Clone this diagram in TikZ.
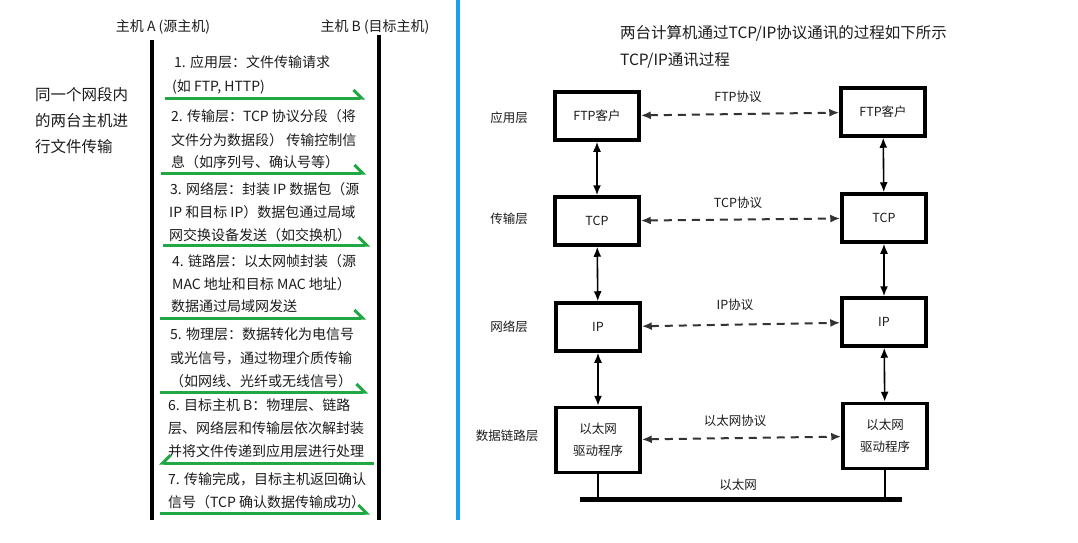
\documentclass[tikz,border=0pt]{standalone}
\usepackage{fontspec}
\setmainfont{Noto Sans CJK SC}
\usetikzlibrary{arrows.meta}
\definecolor{gline}{HTML}{1FA843}
\definecolor{bline}{HTML}{1E9DE8}
\definecolor{txt}{HTML}{1C1C1C}
\definecolor{dash}{HTML}{333333}
\begin{document}
\begin{tikzpicture}[x=1pt,y=-1pt,
  stxt/.style={anchor=west,inner sep=0pt,text=txt,font=\fontsize{14}{16}\selectfont,text height=11pt,text depth=3pt},
  head/.style={inner sep=0pt,text=txt,font=\fontsize{14}{16}\selectfont},
  desc/.style={anchor=west,inner sep=0pt,text=txt,font=\fontsize{15.5}{18}\selectfont},
  garrow/.style={draw=gline,line width=3pt,-{Straight Barb[left,length=8pt,width=16pt,line width=3pt]}},
  garrowl/.style={draw=gline,line width=3pt,{Straight Barb[right,length=8pt,width=16pt,line width=3pt]}-},
  life/.style={draw=black,line width=3.5pt},
  box/.style={draw=black,line width=3.5pt,minimum width=84pt,minimum height=48pt,inner sep=0pt,text=txt,font=\fontsize{12.5}{22}\selectfont,align=center},
  lbl/.style={inner sep=0pt,text=txt,font=\fontsize{12.5}{15}\selectfont},
  plbl/.style={inner sep=0pt,text=txt,font=\fontsize{12.5}{15}\selectfont},
  title/.style={anchor=west,inner sep=0pt,text=txt,font=\fontsize{15.5}{18}\selectfont},
  varrow/.style={draw=black,line width=1.6pt,{Latex[length=10pt,width=8pt]}-{Latex[length=10pt,width=8pt]}},
  harrow/.style={draw=dash,line width=2pt,dash pattern=on 8pt off 6pt,{Latex[length=10pt,width=8pt]}-{Latex[length=10pt,width=8pt]}}
]
\useasboundingbox (0,0) rectangle (1078,543);
\fill[white] (0,0) rectangle (1078,543);

% ---------- left panel ----------
\node[head] (hostA) at (163,27) {主机 A (源主机)};
\node[head] (hostB) at (375,27) {主机 B (目标主机)};
\coordinate (aTop) at (152,40);
\coordinate (aBot) at (152,520);
\coordinate (bTop) at (379,35);
\coordinate (bBot) at (379,520);
\draw[life] (aTop) -- (aBot);
\draw[life] (bTop) -- (bBot);

\node[desc] (d1) at (35,95) {同一个网段内};
\node[desc] (d2) at (35,121) {的两台主机进};
\node[desc] (d3) at (35,147) {行文件传输};

\node[stxt] (s1a) at (174,63) {1. 应用层：文件传输请求};
\node[stxt] (s1b) at (172,88) {(如 FTP, HTTP)};
\node[stxt] (s2a) at (171,117) {2. 传输层：TCP 协议分段（将};
\node[stxt] (s2b) at (171,141) {文件分为数据段） 传输控制信};
\node[stxt] (s2c) at (171,163) {息（如序列号、确认号等）};
\node[stxt] (s3a) at (170,190) {3. 网络层：封装 IP 数据包（源};
\node[stxt] (s3b) at (169,213) {IP 和目标 IP）数据包通过局域};
\node[stxt] (s3c) at (169,236) {网交换设备发送（如交换机）};
\node[stxt] (s4a) at (172,262) {4. 链路层：以太网帧封装（源};
\node[stxt] (s4b) at (172,285) {MAC 地址和目标 MAC 地址）};
\node[stxt] (s4c) at (171,307) {数据通过局域网发送};
\node[stxt] (s5a) at (170,335) {5. 物理层：数据转化为电信号};
\node[stxt] (s5b) at (170,359) {或光信号，通过物理介质传输};
\node[stxt] (s5c) at (170,382) {（如网线、光纤或无线信号）};
\node[stxt] (s6a) at (168,406) {6. 目标主机 B：物理层、链路};
\node[stxt] (s6b) at (168,429) {层、网络层和传输层依次解封装};
\node[stxt] (s6c) at (168,452) {并将文件传递到应用层进行处理};
\node[stxt] (s7a) at (168,480) {7. 传输完成，目标主机返回确认};
\node[stxt] (s7b) at (168,503) {信号（TCP 确认数据传输成功）};

\coordinate (g1s) at (165,98);  \coordinate (g1e) at (365,98);
\coordinate (g2s) at (161,173); \coordinate (g2e) at (366,173);
\coordinate (g3s) at (163,245); \coordinate (g3e) at (370,245);
\coordinate (g4s) at (160,318); \coordinate (g4e) at (366,318);
\coordinate (g5s) at (160,392); \coordinate (g5e) at (368,392);
\coordinate (g6s) at (159,463); \coordinate (g6e) at (374,463);
\coordinate (g7s) at (160,513); \coordinate (g7e) at (370,513);
\draw[garrow] (g1s) -- (g1e);
\draw[garrow] (g2s) -- (g2e);
\draw[garrow] (g3s) -- (g3e);
\draw[garrow] (g4s) -- (g4e);
\draw[garrow] (g5s) -- (g5e);
\draw[garrowl] (g6s) -- (g6e);
\draw[garrow] (g7s) -- (g7e);

% divider
\coordinate (divT) at (458,0);
\coordinate (divB) at (458,520);
\draw[draw=bline,line width=3.5pt] (divT) -- (divB);

% ---------- right panel ----------
\node[title] (t1) at (620,33) {两台计算机通过TCP/IP协议通讯的过程如下所示};
\node[title] (t2) at (620,60) {TCP/IP通讯过程};

\node[lbl] (l1) at (509,118) {应用层};
\node[lbl] (l2) at (509,219) {传输层};
\node[lbl] (l3) at (509,327) {网络层};
\node[lbl] (l4) at (507,436) {数据链路层};

\node[box] (ftpL) at (597,116) {FTP客户};
\node[box] (tcpL) at (597,221) {TCP};
\node[box] (ipL)  at (598,327) {IP};
\node[box,minimum height=65pt] (ethL) at (598,440) {以太网\\驱动程序};

\node[box] (ftpR) at (883,112) {FTP客户};
\node[box] (tcpR) at (884,218) {TCP};
\node[box] (ipR)  at (884,322) {IP};
\node[box,minimum height=65pt] (ethR) at (885,436) {以太网\\驱动程序};

\draw[varrow] (ftpL) -- (tcpL);
\draw[varrow] (tcpL) -- (ipL);
\draw[varrow] (ipL) -- (ethL);
\draw[varrow] (ftpR) -- (tcpR);
\draw[varrow] (tcpR) -- (ipR);
\draw[varrow] (ipR) -- (ethR);

\draw[harrow] (ftpL) -- (ftpR);
\draw[harrow] (tcpL) -- (tcpR);
\draw[harrow] (ipL) -- (ipR);
\draw[harrow] (ethL) -- (ethR);

\node[plbl] (p1) at (738,97) {FTP协议};
\node[plbl] (p2) at (738,203) {TCP协议};
\node[plbl] (p3) at (735,305) {IP协议};
\node[plbl] (p4) at (735,421) {以太网协议};

\coordinate (busL) at (580,499);
\coordinate (busR) at (902,499);
\draw[line width=5pt] (busL) -- (busR);
\draw[line width=2.5pt] (ethL.south) -- (ethL.south |- busL);
\draw[line width=2.5pt] (ethR.south) -- (ethR.south |- busL);
\node[plbl] (bus) at (738,485) {以太网};
\end{tikzpicture}
\end{document}
